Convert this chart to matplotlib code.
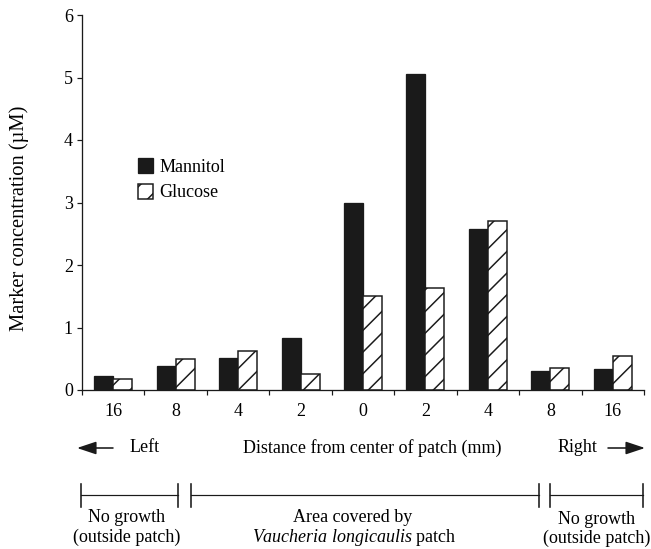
import matplotlib
matplotlib.use("Agg")
import matplotlib.pyplot as plt
import numpy as np
from matplotlib.lines import Line2D

# ---- data ----
categories = ["16", "8", "4", "2", "0", "2", "4", "8", "16"]
mannitol = [0.22, 0.38, 0.52, 0.84, 3.00, 5.05, 2.57, 0.30, 0.33]
glucose = [0.18, 0.49, 0.63, 0.25, 1.50, 1.64, 2.70, 0.35, 0.55]
yticks = [0, 1, 2, 3, 4, 5, 6]

W, H, DPI = 651, 549, 130
PT = 72.0 / DPI  # points per pixel

plt.rcParams["font.family"] = ["Liberation Serif", "DejaVu Serif"]
plt.rcParams["mathtext.fontset"] = "custom"
plt.rcParams["mathtext.rm"] = "Liberation Serif"
plt.rcParams["mathtext.it"] = "Liberation Serif:italic"
plt.rcParams["hatch.linewidth"] = 1.5 * PT
plt.rcParams["hatch.color"] = "#1a1a1a"

fig = plt.figure(figsize=(W / DPI, H / DPI), dpi=DPI)

def fx(x):
    return x / W

def fy(y):
    return 1 - y / H

ax = fig.add_axes([fx(82), fy(390), fx(644) - fx(82), fy(15) - fy(390)])

ink = "#1a1a1a"
x = np.arange(len(categories))
bw = 0.305
ax.bar(x - bw / 2, mannitol, width=bw, color=ink, edgecolor=ink,
       linewidth=1.3 * PT, label="Mannitol")
ax.bar(x + bw / 2, glucose, width=bw, color="white", edgecolor=ink,
       linewidth=1.5 * PT, hatch="//", label="Glucose")

ax.set_xlim(-0.5, len(categories) - 0.5)
ax.set_ylim(0, 6)
ax.set_yticks(yticks)
ax.set_xticks(x)
ax.set_xticklabels(categories)
ax.set_xticks(np.arange(len(categories) + 1) - 0.5, minor=True)

fs_tick = 18 * PT
ax.tick_params(axis="x", which="major", length=0, pad=13 * PT, labelsize=fs_tick)
ax.tick_params(axis="x", which="minor", length=5 * PT, width=1.2 * PT, direction="out", color=ink)
ax.tick_params(axis="y", length=5 * PT, width=1.2 * PT, pad=4 * PT, labelsize=fs_tick, color=ink)

for s in ["top", "right"]:
    ax.spines[s].set_visible(False)
for s in ["left", "bottom"]:
    ax.spines[s].set_linewidth(1.3 * PT)
    ax.spines[s].set_color(ink)

fs_lab = 18 * PT
fig.text(fx(19), fy(218), "Marker concentration (\u00b5M)", rotation=90,
         ha="center", va="center", fontsize=20.5 * PT)

leg = ax.legend(loc="upper left", bbox_to_anchor=(fx(138), fy(158)),
                bbox_transform=fig.transFigure, frameon=False,
                fontsize=18 * PT, borderpad=0, borderaxespad=0,
                handlelength=0.85, handleheight=0.9, handletextpad=0.35,
                labelspacing=0.45)

# ---- annotations below the axis ----
fig.text(fx(130), fy(448), "Left", ha="left", va="center", fontsize=fs_lab)
fig.text(fx(372), fy(448), "Distance from center of patch (mm)", ha="center",
         va="center", fontsize=fs_lab)
fig.text(fx(558), fy(448), "Right", ha="left", va="center", fontsize=fs_lab)

arrowprops = dict(arrowstyle="-|>,head_length=0.9,head_width=0.3",
                  color=ink, lw=1.6 * PT, mutation_scale=10,
                  shrinkA=0, shrinkB=0)
ax.annotate("", xy=(fx(77), fy(448)), xytext=(fx(113), fy(448)),
            xycoords=fig.transFigure, textcoords=fig.transFigure,
            arrowprops=arrowprops, annotation_clip=False)
ax.annotate("", xy=(fx(645), fy(448)), xytext=(fx(608), fy(448)),
            xycoords=fig.transFigure, textcoords=fig.transFigure,
            arrowprops=arrowprops, annotation_clip=False)

def bracket(x0, x1, y=495, y0=484, y1=507):
    fig.add_artist(Line2D([fx(x0), fx(x1)], [fy(y), fy(y)],
                          transform=fig.transFigure, color=ink, lw=1.2 * PT))
    for xx in (x0, x1):
        fig.add_artist(Line2D([fx(xx), fx(xx)], [fy(y0), fy(y1)],
                              transform=fig.transFigure, color=ink, lw=1.6 * PT))

bracket(81, 178)
bracket(191, 539)
bracket(550, 643)

fig.text(fx(127), fy(517), "No growth", ha="center", va="center", fontsize=fs_lab)
fig.text(fx(127), fy(537), "(outside patch)", ha="center", va="center", fontsize=fs_lab)
fig.text(fx(353), fy(518), "Area covered by", ha="center", va="center", fontsize=fs_lab)
fig.text(fx(354), fy(537), r"$\mathit{Vaucheria\ longicaulis}$ patch",
         ha="center", va="center", fontsize=fs_lab)
fig.text(fx(597), fy(520), "No growth", ha="center", va="center", fontsize=fs_lab)
fig.text(fx(597), fy(538), "(outside patch)", ha="center", va="center", fontsize=fs_lab)

fig.savefig("out.png", dpi=DPI)
